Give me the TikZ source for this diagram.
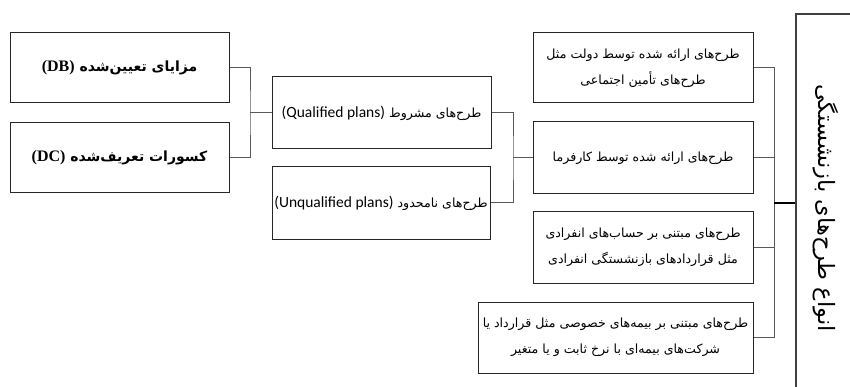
\documentclass[tikz,border=0pt]{standalone}
\usepackage{fontspec}
\setmainfont{Carlito}
\newfontfamily\fa[Script=Arabic]{DejaVu Sans}
\newfontfamily\en{Carlito}
\newfontfamily\tm{Liberation Serif}
\TeXXeTstate=1
\tikzset{
  box/.style={draw=black!85, line width=1pt, inner sep=1pt, align=center,
    font=\fa\fontsize{12.6}{26}\selectfont},
  conn/.style={draw=black!65, line width=1pt},
  rootconn/.style={draw=black, line width=1.8pt},
}
\begin{document}
\begin{tikzpicture}[x=1pt,y=-1pt]
\useasboundingbox (0,0) rectangle (850,387);
\clip (0,0) rectangle (850,387);
% left boxes
\node[box, minimum width=219pt, minimum height=70pt] (db) at (119.5,68)
  {\bfseries\fontsize{14}{17}\selectfont\beginR مزایای تعیین‌شده \beginL{\tm\bfseries\fontsize{16}{17}\selectfont (DB)}\endL\endR};
\node[box, minimum width=219pt, minimum height=70pt] (dc) at (119.5,158)
  {\bfseries\fontsize{14}{17}\selectfont\beginR کسورات تعریف‌شده \beginL{\tm\bfseries\fontsize{16}{17}\selectfont (DC)}\endL\endR};
% middle boxes
\node[box, minimum width=219pt, minimum height=72pt] (q) at (381.5,113)
  {\beginR طرح‌های مشروط \beginL{\en\fontsize{15.5}{17}\selectfont (Qualified plans)}\endL\endR};
\node[box, minimum width=218pt, minimum height=72pt, inner sep=0pt] (u) at (381,203)
  {\beginR طرح‌های نامحدود \beginL{\en\fontsize{15.5}{17}\selectfont (Unqualified plans)}\endL\endR};
% right boxes
\node[box, minimum width=220pt, minimum height=70pt] (r1) at (643,68)
  {\beginR طرح‌های ارائه شده توسط دولت مثل\endR\\\beginR طرح‌های تأمین اجتماعی\endR};
\node[box, minimum width=220pt, minimum height=72pt] (r2) at (643,158)
  {\beginR طرح‌های ارائه شده توسط کارفرما\endR};
\node[box, minimum width=220pt, minimum height=71pt] (r3) at (643,247.5)
  {\beginR طرح‌های مبتنی بر حساب‌های انفرادی\endR\\\beginR مثل قراردادهای بازنشستگی انفرادی\endR};
\node[box, minimum width=275pt, minimum height=71pt, inner sep=0pt] (r4) at (615.5,337.5)
  {\beginR طرح‌های مبتنی بر بیمه‌های خصوصی مثل قرارداد یا\endR\\\beginR شرکت‌های بیمه‌ای با نرخ ثابت و یا متغیر\endR};
% root box
\node[draw=black!75, line width=1.3pt, minimum width=64pt, minimum height=385pt] (root) at (828,206.5) {};
\node[rotate=-90, font=\fa\fontsize{22.5}{26}\selectfont] (roottext) at (826,208)
  {\beginR انواع طرح‌های بازنشستگی\endR};
% connectors
\coordinate (b1) at (250,113);
\coordinate (b2) at (513,158);
\coordinate (b3) at (774,203);
\draw[conn] (db.east) -| (b1) |- (dc.east);
\draw[conn] (b1) -- (q.west);
\draw[conn] (q.east) -| (b2) |- (u.east);
\draw[conn] (b2) -- (r2.west);
\draw[conn] (r1.east) -| (b3) |- (r4.east);
\draw[conn] (r2.east) -- (r2.east -| b3);
\draw[conn] (r3.east) -- (r3.east -| b3);
\draw[rootconn] (b3) -- (b3 -| root.west);
\end{tikzpicture}
\end{document}
